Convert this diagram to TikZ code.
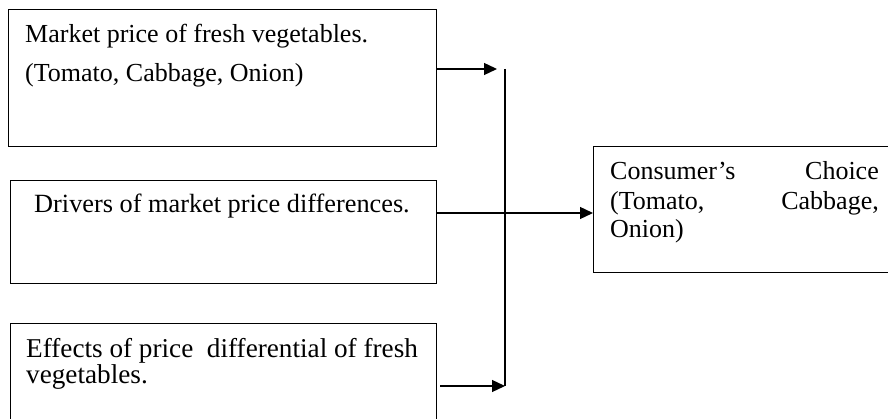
\documentclass[tikz,border=0pt]{standalone}
\usepackage{fontspec}
\setmainfont{Liberation Serif}
\usetikzlibrary{arrows.meta}
\begin{document}
\begin{tikzpicture}[x=1pt,y=-1pt,
    box/.style={draw, line width=1.3pt, anchor=north west, inner sep=0pt},
    txt/.style={anchor=base west, inner sep=0pt, font=\fontsize{26pt}{30pt}\selectfont},
    bigtxt/.style={txt, font=\fontsize{27.2pt}{31pt}\selectfont},
    arr/.style={line width=1.3pt, -{Triangle[length=13pt,width=12pt]}}]
  \useasboundingbox (0,0) rectangle (888,419);
  \clip (0,0) rectangle (888,419);
  % boxes
  \node[box, minimum width=428pt, minimum height=137pt] (price) at (8,9) {};
  \node[box, minimum width=426pt, minimum height=103pt] (drivers) at (10,180) {};
  \node[box, minimum width=426pt, minimum height=140pt] (effects) at (10,323) {};
  \node[box, minimum width=340pt, minimum height=126pt] (choice) at (593,146) {};
  % texts
  \node[txt] (price1) at (25,43) {Market price of fresh vegetables.};
  \node[txt] (price2) at (25,82) {(Tomato, Cabbage, Onion)};
  \node[txt, font=\fontsize{26.3pt}{30pt}\selectfont] (drivers1) at (34,213) {Drivers of market price differences.};
  \node[bigtxt] (effects1) at (26,357) {Effects of price \ differential of fresh};
  \node[bigtxt] (effects2) at (26,383) {vegetables.};
  \node[txt] (choice1) at (610,180) {Consumer’s};
  \node[txt, anchor=base east] (choice1b) at (879,180) {Choice};
  \node[txt] (choice2) at (610,210) {(Tomato,};
  \node[txt, anchor=base east] (choice2b) at (879,210) {Cabbage,};
  \node[txt] (choice3) at (610,238) {Onion)};
  % joining line
  \coordinate (busTop) at (505,69);
  \coordinate (busBot) at (505,386);
  \begin{scope}[line width=1.3pt]
    \draw (busTop) -- (busBot);
    \draw[arr] (price.east |- busTop) -- ([xshift=-8pt]busTop);
    \draw[arr] (drivers.east |- drivers1.base) -- (choice.west |- drivers1.base);
    \draw[arr] ([xshift=3pt]effects.east |- busBot) -- (busBot);
  \end{scope}
\end{tikzpicture}
\end{document}
